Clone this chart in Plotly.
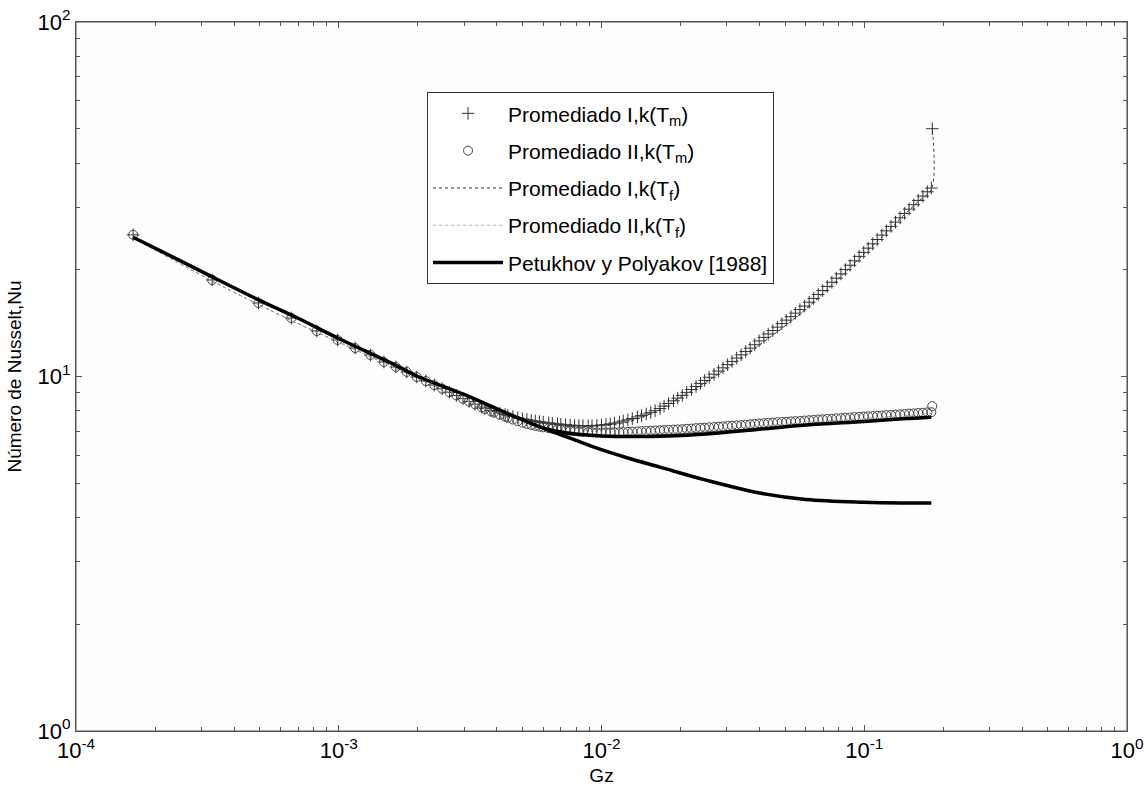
import plotly.graph_objects as go

# Gz values of the averaged results (first 20 at the true spacing, then sampled)
GZ = [
    0.000165, 0.00033, 0.000495, 0.00066, 0.000825, 0.00099, 0.001155, 0.00132, 0.001485, 0.00165,
    0.001815, 0.00198, 0.002145, 0.00231, 0.002475, 0.00264, 0.002805, 0.00297, 0.003135, 0.0033,
    0.0035, 0.0036, 0.0038, 0.0039, 0.0041, 0.0043, 0.0044, 0.0046, 0.0048, 0.005,
    0.0052, 0.0054, 0.0056, 0.0058, 0.006, 0.0063, 0.0065, 0.0068, 0.007, 0.0073,
    0.0076, 0.0079, 0.0082, 0.0085, 0.0089, 0.0092, 0.0096, 0.010, 0.0104, 0.0108,
    0.0112, 0.0117, 0.0121, 0.0126, 0.0131, 0.0137, 0.0142, 0.0148, 0.0154, 0.016,
    0.0167, 0.0173, 0.018, 0.0188, 0.0195, 0.0203, 0.0211, 0.022, 0.0229, 0.0238,
    0.0247, 0.0257, 0.0268, 0.0279, 0.029, 0.0302, 0.0314, 0.0327, 0.034, 0.0354,
    0.0368, 0.0383, 0.0398, 0.0415, 0.0431, 0.0449, 0.0467, 0.0486, 0.0505, 0.0526,
    0.0547, 0.0569, 0.0593, 0.0617, 0.0642, 0.0668, 0.0695, 0.0723, 0.0753, 0.0783,
    0.0815, 0.0848, 0.0883, 0.0919, 0.0956, 0.0995, 0.1035, 0.1077, 0.1121, 0.1167,
    0.1214, 0.1264, 0.1315, 0.1369, 0.1424, 0.1482, 0.1543, 0.1605, 0.1671, 0.1739,
    0.18, 0.1815,
]

NU_I_TM = [
    25.1, 18.72, 16.12, 14.62, 13.44, 12.68, 12.03, 11.50, 10.99, 10.64,
    10.30, 9.97, 9.71, 9.46, 9.24, 9.03, 8.84, 8.66, 8.50, 8.35,
    8.20, 8.13, 8.02, 7.97, 7.88, 7.81, 7.77, 7.71, 7.65, 7.60,
    7.56, 7.52, 7.49, 7.46, 7.43, 7.40, 7.38, 7.35, 7.33, 7.31,
    7.29, 7.28, 7.27, 7.26, 7.26, 7.26, 7.28, 7.30, 7.32, 7.35,
    7.39, 7.44, 7.49, 7.55, 7.61, 7.69, 7.76, 7.84, 7.92, 8.01,
    8.12, 8.25, 8.39, 8.54, 8.69, 8.85, 9.02, 9.19, 9.37, 9.56,
    9.75, 9.95, 10.15, 10.36, 10.58, 10.80, 11.03, 11.27, 11.51, 11.76,
    12.02, 12.29, 12.60, 12.89, 13.18, 13.48, 13.78, 14.10, 14.42, 14.75,
    15.09, 15.44, 15.80, 16.20, 16.61, 17.04, 17.48, 17.95, 18.44, 18.94,
    19.47, 20.02, 20.60, 21.20, 21.82, 22.40, 23.02, 23.67, 24.35, 25.05,
    25.76, 26.51, 27.26, 28.04, 28.84, 29.66, 30.52, 31.38, 32.28, 33.20,
    34.0, 50.0,
]

NU_II_TM = [
    25.1, 18.72, 16.12, 14.62, 13.44, 12.68, 12.03, 11.50, 10.99, 10.64,
    10.30, 9.97, 9.71, 9.46, 9.24, 9.03, 8.84, 8.66, 8.50, 8.35,
    8.18, 8.10, 7.97, 7.91, 7.80, 7.70, 7.65, 7.56, 7.48, 7.41,
    7.35, 7.30, 7.26, 7.22, 7.19, 7.15, 7.13, 7.10, 7.08, 7.05,
    7.03, 7.01, 6.99, 6.98, 6.97, 6.96, 6.95, 6.95, 6.95, 6.95,
    6.96, 6.96, 6.97, 6.98, 6.99, 7.00, 7.01, 7.02, 7.03, 7.04,
    7.05, 7.06, 7.07, 7.08, 7.09, 7.10, 7.12, 7.13, 7.15, 7.16,
    7.17, 7.19, 7.20, 7.22, 7.23, 7.25, 7.26, 7.28, 7.29, 7.31,
    7.33, 7.35, 7.37, 7.38, 7.40, 7.41, 7.43, 7.44, 7.45, 7.47,
    7.48, 7.49, 7.51, 7.53, 7.54, 7.56, 7.57, 7.59, 7.60, 7.62,
    7.63, 7.65, 7.66, 7.68, 7.69, 7.71, 7.72, 7.73, 7.75, 7.76,
    7.78, 7.79, 7.81, 7.82, 7.84, 7.86, 7.87, 7.89, 7.90, 7.92,
    7.93, 8.25,
]

# k(Tf) curves
GZ_TF = [0.000165, 0.00033, 0.0005, 0.0007, 0.001, 0.0015, 0.002, 0.003, 0.004, 0.005,
         0.006, 0.007, 0.008, 0.01, 0.0125, 0.0167, 0.02, 0.025, 0.03, 0.04,
         0.05, 0.06, 0.08, 0.1, 0.12, 0.14, 0.16, 0.18, 0.1815]
NU_I_TF = [24.6, 18.6, 15.9, 14.1, 12.5, 10.9, 9.9, 8.6, 7.9, 7.55,
           7.38, 7.28, 7.23, 7.25, 7.42, 8.08, 8.75, 9.65, 10.55, 12.3,
           13.9, 15.5, 18.9, 22.2, 25.3, 28.3, 31.1, 33.8, 50.0]
NU_II_TF = [24.6, 18.6, 15.9, 14.1, 12.5, 10.9, 9.9, 8.6, 7.85, 7.38,
            7.12, 6.97, 6.9, 6.85, 6.86, 6.92, 6.97, 7.05, 7.12, 7.24,
            7.34, 7.42, 7.54, 7.62, 7.69, 7.75, 7.81, 7.87]

# Petukhov y Polyakov [1988]
GZ_PET = [0.000165, 0.00025, 0.00033, 0.0005, 0.0007, 0.001, 0.00165, 0.002, 0.003, 0.004,
          0.005, 0.006, 0.007, 0.008, 0.0093, 0.0125, 0.0167, 0.025, 0.04, 0.06,
          0.1, 0.14, 0.18]
NU_PET_LOW = [24.7, 21.2, 19.1, 16.4, 14.6, 12.8, 10.75, 10.0, 8.9, 8.1,
              7.55, 7.15, 6.85, 6.6, 6.33, 5.9, 5.55, 5.1, 4.69, 4.5,
              4.42, 4.40, 4.40]
GZ_PET_UP = [0.006, 0.007, 0.008, 0.01, 0.0125, 0.0167, 0.025, 0.04, 0.06, 0.1, 0.14, 0.18]
NU_PET_UP = [7.15, 6.97, 6.88, 6.8, 6.77, 6.78, 6.88, 7.1, 7.3, 7.47, 7.6, 7.68]

FONT = "Liberation Sans, Arial, sans-serif"

fig = go.Figure()

fig.add_trace(go.Scatter(
    x=GZ, y=NU_I_TM, mode="markers", name="Promediado I,k(T<sub>m</sub>)",
    marker=dict(symbol="cross-thin-open", size=9, color="#333333",
                line=dict(color="#333333", width=1)),
    legendgroup="a",
))
fig.add_trace(go.Scatter(
    x=GZ, y=NU_II_TM, mode="markers", name="Promediado II,k(T<sub>m</sub>)",
    marker=dict(symbol="circle-open", size=9, color="#444444",
                line=dict(color="#444444", width=1)),
    legendgroup="b",
))
fig.add_trace(go.Scatter(
    x=GZ_TF, y=NU_I_TF, mode="lines", name="Promediado I,k(T<sub>f</sub>)",
    line=dict(color="#333333", width=1, dash="dot", shape="spline"),
    legendgroup="c",
))
fig.add_trace(go.Scatter(
    x=GZ_TF[:-1], y=NU_II_TF, mode="lines", name="Promediado II,k(T<sub>f</sub>)",
    line=dict(color="#aaaaaa", width=1, dash="dot", shape="spline"),
    legendgroup="d",
))
fig.add_trace(go.Scatter(
    x=GZ_PET, y=NU_PET_LOW, mode="lines", name="Petukhov y Polyakov [1988]",
    line=dict(color="black", width=3.5, shape="spline"),
    legendgroup="e",
))
fig.add_trace(go.Scatter(
    x=GZ_PET_UP, y=NU_PET_UP, mode="lines", showlegend=False,
    line=dict(color="black", width=3.5, shape="spline"),
    legendgroup="e",
))

x_ticks = [1e-4, 1e-3, 1e-2, 1e-1, 1]
x_text = ["10<sup>-4</sup>", "10<sup>-3</sup>", "10<sup>-2</sup>", "10<sup>-1</sup>", "10<sup>0</sup>"]
x_minor = [m * 10 ** e for e in range(-4, 0) for m in range(2, 10)]
y_ticks = [1, 10, 100]
y_text = ["10<sup>0</sup>", "10<sup>1</sup>", "10<sup>2</sup>"]
y_minor = [m * 10 ** e for e in range(0, 2) for m in range(2, 10)]

axis_common = dict(
    type="log", showgrid=False, zeroline=False, showline=True,
    linecolor="#555555", linewidth=1, mirror="ticks",
    ticks="inside", ticklen=6, tickcolor="#555555",
    tickfont=dict(family=FONT, size=22, color="black"),
    ticklabeloverflow="allow",
    automargin=False,
)

fig.update_xaxes(
    range=[-4, 0], tickvals=x_ticks, ticktext=x_text,
    minor=dict(tickvals=x_minor, ticks="inside", ticklen=4, tickcolor="#555555"),
    title=dict(text="Gz", font=dict(family=FONT, size=19, color="black"), standoff=6),
    **axis_common,
)
fig.update_yaxes(
    range=[0, 2], tickvals=y_ticks, ticktext=y_text,
    minor=dict(tickvals=y_minor, ticks="inside", ticklen=4, tickcolor="#555555"),
    title=dict(text="Número de Nusselt,Nu", font=dict(family=FONT, size=19, color="black"), standoff=10),
    **axis_common,
)

# frame around the plot area
fig.add_shape(type="rect", xref="paper", yref="paper", x0=0, x1=1, y0=0, y1=1,
              line=dict(color="#555555", width=1), layer="above")

fig.update_layout(
    width=1147, height=794,
    margin=dict(l=76, r=20, t=22, b=63),
    paper_bgcolor="white", plot_bgcolor="#fdfdfd",
    font=dict(family=FONT, size=16, color="black"),
    legend=dict(
        x=0.334, y=0.901, xanchor="left", yanchor="top",
        bordercolor="#333333", borderwidth=1, bgcolor="white",
        font=dict(family=FONT, size=21, color="black"),
        itemwidth=70, tracegroupgap=7,
    ),
)

# drop the default page margin so the figure sits at the window's corner
fig.write_html(
    "out.html",
    config={"displayModeBar": False},
    post_script="document.body.style.margin = '0';",
)
